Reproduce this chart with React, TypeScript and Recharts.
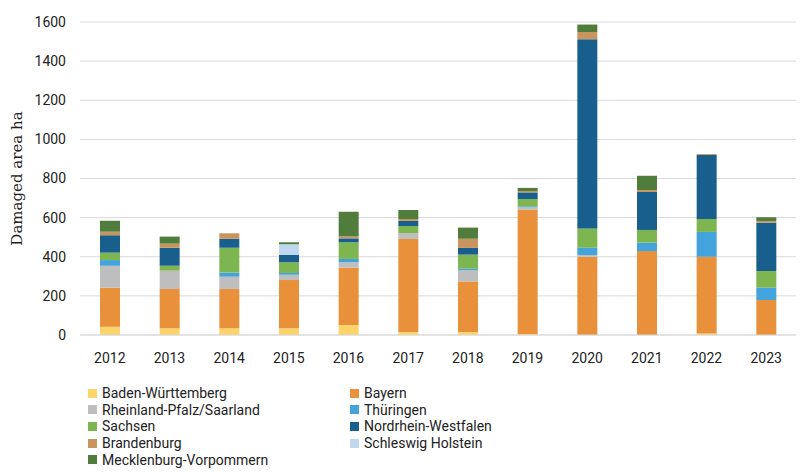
import { BarChart, Bar, XAxis, YAxis, CartesianGrid, Label } from "recharts"

const years = ["2012", "2013", "2014", "2015", "2016", "2017", "2018", "2019", "2020", "2021", "2022", "2023"]

const badenWuerttemberg = [42, 34, 34, 34, 51, 15, 15, 5, 0, 0, 8, 0]
const bayern = [200, 201, 201, 247, 293, 476, 258, 636, 400, 429, 392, 179]
const rheinlandPfalz = [112, 94, 63, 27, 28, 29, 58, 12, 9, 0, 0, 0]
const thueringen = [29, 0, 21, 9, 17, 0, 8, 5, 37, 43, 127, 63]
const sachsen = [38, 25, 127, 55, 85, 37, 72, 37, 99, 65, 66, 85]
const nordrheinWestfalen = [89, 92, 46, 37, 20, 26, 34, 34, 967, 194, 327, 247]
const brandenburg = [18, 21, 28, 0, 10, 10, 47, 7, 37, 10, 5, 9]
const schleswigHolstein = [0, 0, 0, 55, 0, 0, 0, 0, 0, 0, 0, 0]
const mecklenburg = [56, 36, 0, 10, 126, 46, 57, 16, 38, 73, 0, 19]

const yTicks = [0, 200, 400, 600, 800, 1000, 1200, 1400, 1600]

// stacking order = legend order (row by row)
const series = [
  { key: "bw", name: "Baden-Württemberg", values: badenWuerttemberg, color: "#FDD46A" },
  { key: "by", name: "Bayern", values: bayern, color: "#E8903A" },
  { key: "rp", name: "Rheinland-Pfalz/Saarland", values: rheinlandPfalz, color: "#BEBEBE" },
  { key: "th", name: "Thüringen", values: thueringen, color: "#42A3DD" },
  { key: "sn", name: "Sachsen", values: sachsen, color: "#7DB550" },
  { key: "nw", name: "Nordrhein-Westfalen", values: nordrheinWestfalen, color: "#185F8E" },
  { key: "bb", name: "Brandenburg", values: brandenburg, color: "#C9955E" },
  { key: "sh", name: "Schleswig Holstein", values: schleswigHolstein, color: "#BFD8EF" },
  { key: "mv", name: "Mecklenburg-Vorpommern", values: mecklenburg, color: "#517D3C" },
]

const data = years.map((year, i) => {
  const row: any = { year }
  series.forEach((s) => (row[s.key] = s.values[i]))
  return row
})

const font = "Roboto, 'Noto Sans', sans-serif"

const ChartLegend = () => (
  <div
    style={{
      position: "absolute",
      left: 88,
      top: 385,
      display: "grid",
      gridTemplateColumns: "262px 240px",
      fontFamily: font,
      fontSize: 14,
      color: "#222",
    }}
  >
    {series.map((s) => (
      <div key={s.key} style={{ display: "flex", alignItems: "center", height: 16.6 }}>
        <span style={{ width: 9, height: 9, background: s.color, display: "inline-block", marginRight: 5 }} />
        <span>{s.name}</span>
      </div>
    ))}
  </div>
)

export default function App() {
  return (
    <div style={{ position: "absolute", left: 0, top: 0, width: 800, height: 473, background: "#fff" }}>
      <BarChart
        width={800}
        height={473}
        data={data}
        margin={{ top: 22, right: 4, bottom: 108, left: 20 }}
        barSize={20}
      >
        <CartesianGrid vertical={false} stroke="#D9D9D9" />
        <XAxis
          dataKey="year"
          tickLine={false}
          axisLine={{ stroke: "#D9D9D9" }}
          tick={{ fontFamily: font, fontSize: 14, fill: "#222" }}
          tickMargin={12}
          height={30}
        />
        <YAxis
          width={60}
          ticks={yTicks}
          domain={[0, 1600]}
          tickLine={false}
          axisLine={false}
          tickMargin={8}
          tick={{ fontFamily: font, fontSize: 14, fill: "#222" }}
        >
          <Label
            value="Damaged area ha"
            angle={-90}
            position="insideLeft"
            offset={-3}
            style={{ textAnchor: "middle", fontFamily: "'DejaVu Serif', 'Liberation Serif', serif", fontSize: 15, fill: "#222" }}
          />
        </YAxis>
        {series.map((s) => (
          <Bar key={s.key} dataKey={s.key} name={s.name} stackId="a" fill={s.color} isAnimationActive={false} />
        ))}
      </BarChart>
      <ChartLegend />
    </div>
  )
}
